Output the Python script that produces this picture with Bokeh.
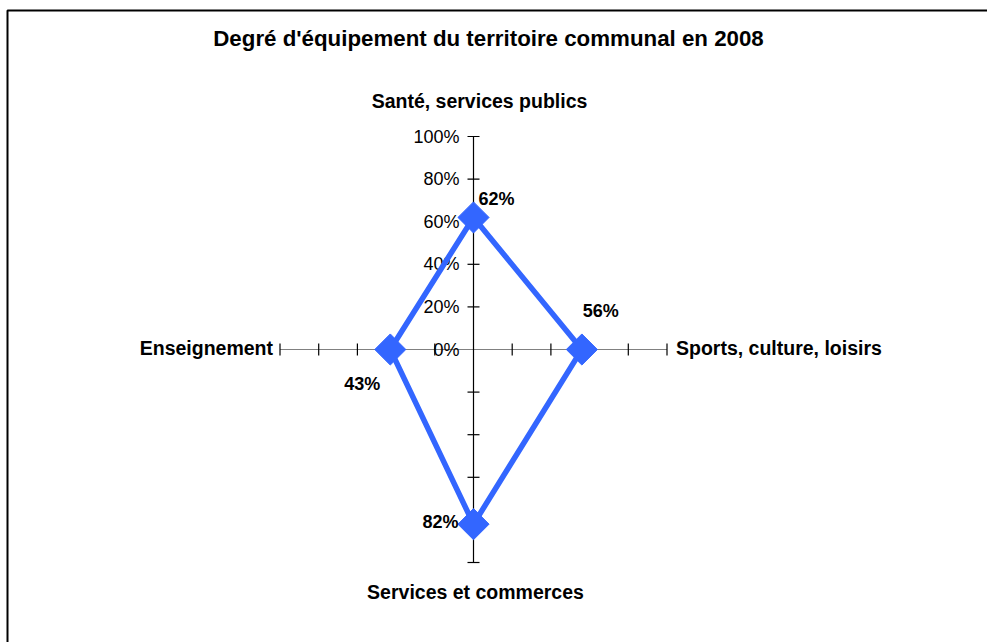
import math
from bokeh.plotting import figure
from bokeh.models import Range1d
from bokeh.core.properties import value
from bokeh.embed import file_html
from bokeh.resources import INLINE

# ---- data ----
title_text = "Degré d'équipement du territoire communal en 2008"
categories = ["Santé, services publics", "Sports, culture, loisirs",
              "Services et commerces", "Enseignement"]
values = [0.62, 0.56, 0.82, 0.43]
value_labels = ["62%", "56%", "82%", "43%"]
tick_values = [0.0, 0.2, 0.4, 0.6, 0.8, 1.0]
tick_labels = ["0%", "20%", "40%", "60%", "80%", "100%"]

# ---- layout / style ----
W, H = 987, 642
CX, CY = 473, 349          # centre of the radar, in pixels
PX_X, PX_Y = 193.5, 213.0  # pixels for 100 % on the horizontal / vertical axes
FONT = value("Liberation Sans")
BLUE = "#3366FF"
directions = [(0, 1), (1, 0), (0, -1), (-1, 0)]  # top, right, bottom, left
label_offsets = [(5, -18, "left"), (19, -39, "center"), (-15, -2, "right"), (-28, 34, "center")]
cat_offsets = [(6, -36, "center", "middle"), (9, -2, "left", "middle"),
               (2, 29, "center", "middle"), (-7, -2, "right", "middle")]


def dx(px):
    return px / PX_X


def dy(px):
    return px / PX_Y


p = figure(width=W, height=H, output_backend="svg", toolbar_location=None,
           x_range=Range1d(-CX / PX_X, (W - CX) / PX_X),
           y_range=Range1d(-(H - CY) / PX_Y, CY / PX_Y),
           min_border=0, outline_line_color=None,
           x_axis_location=None, y_axis_location=None, title=None)
p.grid.visible = False
p.background_fill_color = "white"
p.border_fill_color = "white"

# frame (left and top borders of the chart area)
x0 = -CX / PX_X + dx(7)
y0 = CY / PX_Y - dy(10)
p.line([x0, x0, (W - CX) / PX_X + 1], [-(H - CY) / PX_Y - 1, y0, y0],
       line_color="black", line_width=2)

# axes
p.line([-1, 1], [0, 0], line_color="#808080", line_width=1.2)
p.line([0, 0], [-1, 1], line_color="black", line_width=1.2)
ticks = [t for t in tick_values if t > 0]
half_x, half_y = dx(6), dy(6)
for (ux, uy) in directions:
    if ux == 0:
        p.segment(x0=[-half_x] * len(ticks), x1=[half_x] * len(ticks),
                  y0=[uy * t for t in ticks], y1=[uy * t for t in ticks],
                  line_color="black", line_width=1.2)
    else:
        p.segment(x0=[ux * t for t in ticks], x1=[ux * t for t in ticks],
                  y0=[-half_y] * len(ticks), y1=[half_y] * len(ticks),
                  line_color="black", line_width=1.2)

# tick labels on the top axis
p.text(x=[0] * len(tick_values), y=tick_values, text=tick_labels,
       x_offset=-14, text_align="right", text_baseline="middle",
       text_font=FONT, text_font_size="18px", text_color="black")

# series
xs = [v * d[0] for v, d in zip(values, directions)]
ys = [v * d[1] for v, d in zip(values, directions)]
p.line(xs + xs[:1], ys + ys[:1], line_color=BLUE, line_width=5.5, line_join="miter")
p.scatter(xs, ys, marker="square", size=22, angle=math.pi / 4,
          fill_color=BLUE, line_color=BLUE)

# value labels
for x, y, lab, (ox, oy, al) in zip(xs, ys, value_labels, label_offsets):
    p.text(x=[x], y=[y], text=[lab], x_offset=ox, y_offset=oy,
           text_align=al, text_baseline="middle", text_font=FONT,
           text_font_size="18px", text_font_style="bold", text_color="black")

# category labels
for cat, (ux, uy), (ox, oy, al, bl) in zip(categories, directions, cat_offsets):
    p.text(x=[ux], y=[uy], text=[cat], x_offset=ox, y_offset=oy,
           text_align=al, text_baseline=bl, text_font=FONT,
           text_font_size="19.5px", text_font_style="bold", text_color="black")

# title
p.text(x=[dx(488 - CX)], y=[dy(CY - 38)], text=[title_text],
       text_align="center", text_baseline="middle", text_font=FONT,
       text_font_size="22.3px", text_font_style="bold", text_color="black")

open("out.html", "w").write(file_html(p, INLINE))
